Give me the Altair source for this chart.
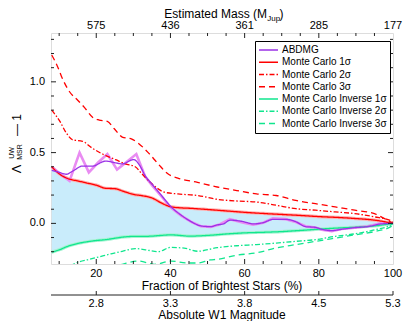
import altair as alt
import pandas as pd

# ---------------- data ----------------
series_names = ["ABDMG", "Monte Carlo 1σ", "Monte Carlo 2σ", "Monte Carlo 3σ",
                "Monte Carlo Inverse 1σ", "Monte Carlo Inverse 2σ", "Monte Carlo Inverse 3σ"]

abdmg_f = [8, 10.2, 11.9, 13.7, 16.3, 19, 22.5, 25.2, 27, 30.1, 31.8, 33.2, 35, 37.6, 40.2,
           42.9, 45.6, 48.2, 50.8, 52.6, 54.3, 56.1, 59.7, 62.3, 65, 67.6, 71.1, 73.8, 76.4,
           79.1, 80.8, 83.5, 86.1, 89.7, 93.2, 96.7, 100]
abdmg_v = [0.375, 0.359, 0.347, 0.37, 0.405, 0.405, 0.44, 0.428, 0.42, 0.451, 0.405, 0.336,
           0.278, 0.197, 0.116, 0.058, 0.012, -0.018, -0.023, -0.011, -0.004, 0.023, 0.012,
           -0.004, 0.005, 0.028, 0.028, 0.012, -0.023, -0.028, -0.042, -0.051, -0.042, -0.03,
           -0.023, -0.004, 0.0]

abdmg_raw_f = [8, 10.2, 12.8, 15.5, 18, 20.5, 23, 25.6, 27.5, 30.8, 33.2, 35, 37.6, 40.2, 42.9,
               45.6, 48.2, 50.8, 53, 56, 59.7, 62.3, 65, 67.6, 71.1, 73.8, 76.4, 79.1, 80.8,
               83.5, 86.1, 89.7, 93.2, 96.7, 100]
abdmg_raw_v = [0.40, 0.35, 0.30, 0.50, 0.36, 0.43, 0.49, 0.38, 0.42, 0.49, 0.33, 0.27, 0.19,
               0.11, 0.055, 0.01, -0.02, -0.025, -0.01, 0.03, 0.005, -0.01, 0.005, 0.035, 0.03,
               0.01, -0.02, -0.03, -0.045, -0.055, -0.04, -0.03, -0.02, 0.0, 0.0]

band_f = [8, 10, 12.5, 15, 17.5, 20, 22.5, 25, 27.5, 30, 32.5, 35, 37.5, 40, 42.5, 45, 50, 55,
          60, 65, 70, 75, 80, 85, 90, 95, 100]
mc1_v = [0.40, 0.35, 0.315, 0.30, 0.285, 0.27, 0.248, 0.245, 0.225, 0.205, 0.195, 0.18, 0.145,
         0.118, 0.11, 0.107, 0.098, 0.088, 0.078, 0.07, 0.063, 0.056, 0.048, 0.042, 0.034,
         0.023, 0.0]
inv1_v = [-0.203, -0.187, -0.16, -0.142, -0.13, -0.121, -0.115, -0.105, -0.096, -0.092, -0.092,
          -0.09, -0.085, -0.081, -0.085, -0.09, -0.085, -0.075, -0.067, -0.063, -0.058, -0.05,
          -0.041, -0.033, -0.027, -0.018, 0.0]

mc2_f = [8, 10.2, 11.9, 13.7, 16.3, 19, 21.7, 25.2, 27.8, 30.5, 32.3, 35, 38.4, 42, 47.3, 52.6,
         57.9, 63.2, 68.5, 73.8, 79.1, 84.4, 89.7, 95, 99.4, 100]
mc2_v = [0.80, 0.72, 0.64, 0.59, 0.58, 0.53, 0.49, 0.45, 0.42, 0.40, 0.35, 0.28, 0.22, 0.208,
         0.197, 0.17, 0.158, 0.151, 0.128, 0.104, 0.093, 0.081, 0.069, 0.046, 0.019, 0.0]

mc3_f = [8, 9.7, 10.6, 12.8, 15, 16.8, 19, 20.8, 23, 24.8, 27, 29.6, 31.4, 34, 36.7, 39.3, 42,
         47.3, 52.6, 57.9, 63.2, 68.5, 73.8, 79.1, 84.4, 89.7, 95, 97.6, 100]
mc3_v = [1.19, 1.10, 1.04, 0.93, 0.87, 0.82, 0.75, 0.73, 0.72, 0.67, 0.61, 0.595, 0.565, 0.50,
         0.42, 0.35, 0.32, 0.29, 0.257, 0.232, 0.208, 0.197, 0.162, 0.139, 0.116, 0.093, 0.069,
         0.035, 0.0]

inv2_f = [13, 15, 18, 21, 24, 27, 30.5, 34, 36.7, 40, 43.7, 47.3, 52.6, 57.9, 63.2, 68.5, 73.8,
          79.1, 84.4, 89.7, 95, 99.4, 100]
inv2_v = [-0.30, -0.275, -0.255, -0.235, -0.215, -0.197, -0.178, -0.19, -0.2, -0.17, -0.175,
          -0.197, -0.172, -0.158, -0.15, -0.139, -0.127, -0.115, -0.092, -0.074, -0.046,
          -0.011, 0.0]

inv3_f = [24, 27, 31.4, 35.8, 40.2, 44.6, 47.3, 50.8, 52.6, 57.9, 63.2, 68.5, 73.8, 79.1, 84.4,
          89.7, 95, 99.4, 100]
inv3_v = [-0.31, -0.289, -0.266, -0.289, -0.266, -0.28, -0.28, -0.258, -0.254, -0.225, -0.208,
          -0.174, -0.15, -0.127, -0.104, -0.081, -0.058, -0.023, 0.0]

tick_major = [20, 40, 60, 80, 100]
fraction_labels = ["20", "40", "60", "80", "100"]
mass_labels = ["575", "436", "361", "285", "177"]
w1_labels = ["2.8", "3.3", "3.8", "4.5", "5.3"]
y_label_values = [0.0, 0.5, 1.0]
y_labels = ["0.0", "0.5", "1.0"]
x_minor = [10, 15, 25, 30, 35, 45, 50, 55, 65, 70, 75, 85, 90, 95]
x_major = [20, 40, 60, 80]
y_minor = [-0.2, -0.1, 0.1, 0.2, 0.3, 0.4, 0.6, 0.7, 0.8, 0.9, 1.1, 1.2, 1.3]
y_major = [0.0, 0.5, 1.0]

# ---------------- styling ----------------
W, H = 342, 231
FONT = "Liberation Sans"
PURPLE = "#9a32e6"
RED = "#ff0000"
GREEN = "#10e68e"
colors = [PURPLE, RED, RED, RED, GREEN, GREEN, GREEN]
dashes = [[1, 0], [1, 0], [5, 2, 1.5, 2], [6, 4], [1, 0], [5, 2, 1.5, 2], [6, 4]]

xs = alt.Scale(domain=[7.8, 100], nice=False, zero=False)
ys = alt.Scale(domain=[-0.287, 1.345], nice=False, zero=False)


def X(field="f"):
    return alt.X(f"{field}:Q", scale=xs, axis=None)


def Y(field="v"):
    return alt.Y(f"{field}:Q", scale=ys, axis=None)


band = pd.DataFrame({"f": band_f, "hi": mc1_v, "lo": inv1_v})

frames = [
    pd.DataFrame({"f": inv3_f, "v": inv3_v, "series": series_names[6]}),
    pd.DataFrame({"f": inv2_f, "v": inv2_v, "series": series_names[5]}),
    pd.DataFrame({"f": band_f, "v": inv1_v, "series": series_names[4]}),
    pd.DataFrame({"f": mc3_f, "v": mc3_v, "series": series_names[3]}),
    pd.DataFrame({"f": mc2_f, "v": mc2_v, "series": series_names[2]}),
    pd.DataFrame({"f": band_f, "v": mc1_v, "series": series_names[1]}),
    pd.DataFrame({"f": abdmg_f, "v": abdmg_v, "series": series_names[0]}),
]
lines_df = pd.concat(frames, ignore_index=True)
raw_df = pd.DataFrame({"f": abdmg_raw_f, "v": abdmg_raw_v})
mc1_df = pd.DataFrame({"f": band_f, "v": mc1_v})
inv1_df = pd.DataFrame({"f": band_f, "v": inv1_v})

area = alt.Chart(band).mark_area(color="#c9ecfb", interpolate="monotone").encode(
    x=X(), y=Y("lo"), y2="hi:Q")

halo_red = alt.Chart(mc1_df).mark_line(color="#ffb0b0", strokeWidth=3.2,
                                        interpolate="monotone").encode(x=X(), y=Y())
halo_green = alt.Chart(inv1_df).mark_line(color="#a6f3d2", strokeWidth=3.2,
                                           interpolate="monotone").encode(x=X(), y=Y())
raw_line = alt.Chart(raw_df).mark_line(color="#e98cf2", strokeWidth=2.6).encode(x=X(), y=Y())

legend = alt.Legend(title=None, orient="none", legendX=204, legendY=8, symbolType="stroke",
                    symbolSize=361, symbolStrokeWidth=1.5, clipHeight=12, rowPadding=0.25,
                    labelFont=FONT, labelFontSize=10, labelColor="black", labelOffset=3,
                    padding=3, strokeColor="black", fillColor="white", labelLimit=300)

lines = alt.Chart(lines_df).mark_line(clip=True, strokeWidth=1.3, interpolate="monotone").encode(
    x=X(), y=Y(),
    color=alt.Color("series:N", scale=alt.Scale(domain=series_names, range=colors),
                    legend=legend),
    strokeDash=alt.StrokeDash("series:N", scale=alt.Scale(domain=series_names, range=dashes),
                              legend=legend),
    detail="series:N",
)

TICK = "#222"


def xtick_layer(vals, y0, y1):
    return alt.Chart(pd.DataFrame({"f": vals})).mark_rule(color=TICK, strokeWidth=1).encode(
        x=X(), y=alt.value(y0), y2=alt.value(y1))


def ytick_layer(vals, x0, x1):
    return alt.Chart(pd.DataFrame({"v": vals})).mark_rule(color=TICK, strokeWidth=1).encode(
        y=Y(), x=alt.value(x0), x2=alt.value(x1))


W1_OFF = 31
ticks = [
    xtick_layer(x_minor, H, H - 3), xtick_layer(x_major, H, H - 5),
    xtick_layer(x_minor, 0, 3), xtick_layer(x_major, 0, 5),
    ytick_layer(y_minor, 0, 3), ytick_layer(y_major, 0, 5),
    ytick_layer(y_minor, W, W - 3), ytick_layer(y_major, W, W - 5),
    xtick_layer(tick_major, H + W1_OFF, H + W1_OFF - 4),
]

w1_line = alt.Chart(pd.DataFrame({"a": [0]})).mark_rule(color=TICK, strokeWidth=1).encode(
    x=alt.value(0), x2=alt.value(W), y=alt.value(H + W1_OFF))


def xlabels(labels, y):
    df = pd.DataFrame({"f": tick_major, "lab": labels})
    return alt.Chart(df).mark_text(font=FONT, fontSize=11, baseline="alphabetic",
                                   align="center", color="black").encode(
        x=X(), y=alt.value(y), text="lab:N")


mass_text = xlabels(mass_labels, -3.6)
frac_text = xlabels(fraction_labels, H + 13)
w1_text = xlabels(w1_labels, H + 43)
ylab_text = alt.Chart(pd.DataFrame({"v": y_label_values, "lab": y_labels})).mark_text(
    font=FONT, fontSize=11, baseline="middle", align="right", color="black").encode(
    y=Y(), x=alt.value(-6), text="lab:N")


def label(txt, x, y, size, align="center", baseline="alphabetic", angle=0):
    kw = dict(font=FONT, fontSize=size, align=align, baseline=baseline, color="black")
    if angle:
        kw["angle"] = angle
    return alt.Chart(pd.DataFrame({"t": [txt]})).mark_text(**kw).encode(
        x=alt.value(x), y=alt.value(y), text="t:N")


titles = [
    label("Fraction of Brightest Stars (%)", W / 2, H + 26, 12),
    label("Absolute W1 Magnitude", W / 2, H + 54.5, 12),
    label("Estimated Mass (M", 216, -15, 12, align="right"),
    label("Jup", 216.3, -12, 8, align="left"),
    label(")", 228.5, -15, 12, align="left"),
    # rotated y title:  Λ^UW_MSR − 1
    label("Λ", -34, 136, 13, baseline="middle", angle=270),
    label("UW", -39, 120, 7, baseline="middle", angle=270),
    label("MSR", -31, 119, 7, baseline="middle", angle=270),
    label("— 1", -34, 92, 12, baseline="middle", angle=270),
]

chart = alt.layer(
    area, halo_green, halo_red, raw_line, lines, *ticks, w1_line,
    mass_text, frac_text, w1_text, ylab_text, *titles
).properties(
    width=W, height=H,
    autosize=alt.AutoSizeParams(type="none"),
    padding={"left": 43, "top": 25, "right": 10, "bottom": 57},
).configure_view(stroke="#222", strokeWidth=1).configure(background="white")

chart.save("out.html", embed_options={"renderer": "svg", "actions": False})
